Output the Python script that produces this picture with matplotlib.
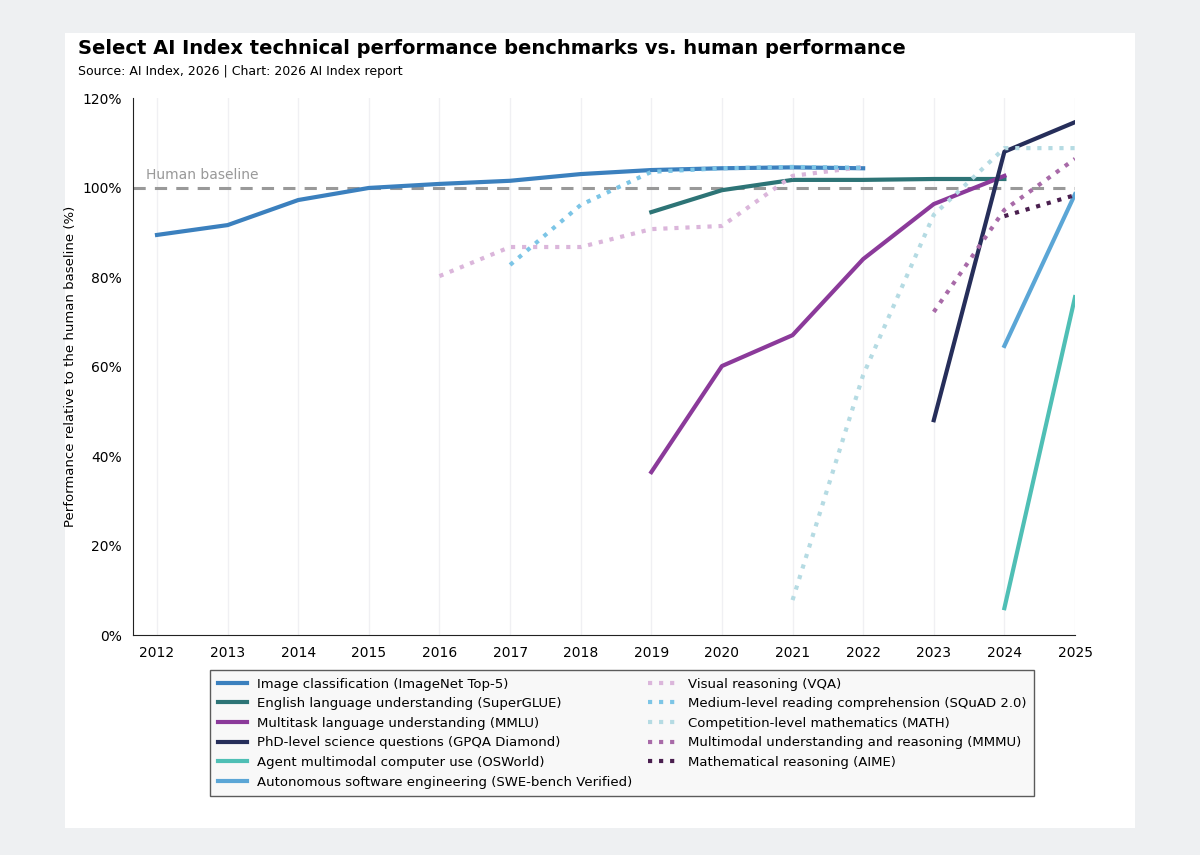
import matplotlib.pyplot as plt
from matplotlib.patches import Rectangle

years = list(range(2012, 2026))
series = [
    ("Image classification (ImageNet Top-5)", list(range(2012, 2023)),
     [89.4, 91.6, 97.2, 99.9, 100.8, 101.5, 103.0, 103.9, 104.3, 104.5, 104.3], "#3b80be", "-"),
    ("English language understanding (SuperGLUE)", list(range(2019, 2025)),
     [94.5, 99.4, 101.7, 101.7, 101.9, 101.9], "#2d7476", "-"),
    ("Multitask language understanding (MMLU)", list(range(2019, 2025)),
     [36.4, 60.1, 67.0, 84.0, 96.3, 102.6], "#8b3a9a", "-"),
    ("PhD-level science questions (GPQA Diamond)", [2023, 2024, 2025],
     [48.0, 108.0, 114.6], "#262e5a", "-"),
    ("Agent multimodal computer use (OSWorld)", [2024, 2025],
     [6.0, 75.5], "#4fbfb5", "-"),
    ("Autonomous software engineering (SWE-bench Verified)", [2024, 2025],
     [64.6, 98.5], "#5ba6d6", "-"),
    ("Visual reasoning (VQA)", list(range(2016, 2023)),
     [80.2, 86.7, 86.7, 90.7, 91.4, 102.6, 104.6], "#dbb6db", ":"),
    ("Medium-level reading comprehension (SQuAD 2.0)", list(range(2017, 2023)),
     [82.7, 96.1, 103.5, 104.3, 104.6, 104.4], "#7cc5e6", ":"),
    ("Competition-level mathematics (MATH)", list(range(2021, 2026)),
     [7.8, 58.1, 93.9, 108.8, 108.8], "#b5dbe3", ":"),
    ("Multimodal understanding and reasoning (MMMU)", [2023, 2024, 2025],
     [72.2, 95.0, 106.4], "#a86aa8", ":"),
    ("Mathematical reasoning (AIME)", [2024, 2025],
     [93.6, 98.3], "#4a1f4f", ":"),
]

fig = plt.figure(figsize=(12, 8.55), dpi=100)
fig.patch.set_facecolor("#eef0f2")
fig.add_artist(Rectangle((65/1200, 1-828/855), (1135-65)/1200, (828-33)/855,
                         transform=fig.transFigure, facecolor="white", edgecolor="none", zorder=0))
ax = fig.add_axes([133/1200, 1-635/855, (1075-133)/1200, (635-98)/855])
ax.set_facecolor("white")

handles = []
for name, xs, ys, c, ls in series:
    h, = ax.plot(xs, ys, color=c, lw=3, linestyle=ls, label=name, zorder=3)
    handles.append(h)
ax.axhline(100, color="#999999", lw=2.2, ls=(0, (4, 3)), zorder=2)
ax.text(2011.85, 101.2, "Human baseline", color="#999999", fontsize=10, va="bottom")

ax.set_xlim(2011.66, 2025)
ax.set_ylim(0, 120)
ax.set_xticks(years)
ax.set_yticks(range(0, 121, 20))
ax.set_yticklabels([f"{v}%" for v in range(0, 121, 20)])
ax.tick_params(labelsize=10, length=0, pad=8)
ax.grid(axis="x", color="#f0f0f3", lw=1)
for s in ["top", "right"]:
    ax.spines[s].set_visible(False)
ax.spines["left"].set_color("#222222")
ax.spines["bottom"].set_color("#222222")
ax.set_ylabel("Performance relative to the human baseline (%)", fontsize=9.5)

fig.text(78/1200, 1-48/855, "Select AI Index technical performance benchmarks vs. human performance",
         fontsize=14, fontweight="bold", va="center")
fig.text(78/1200, 1-71/855, "Source: AI Index, 2026 | Chart: 2026 AI Index report",
         fontsize=9, va="center")

leg = fig.legend(handles=handles, loc="upper left", ncol=2,
                 bbox_to_anchor=(203/1200, 1-663/855), fontsize=9.5,
                 frameon=True, fancybox=False, edgecolor="#333333",
                 facecolor="#f7f7f7", handlelength=2.2, columnspacing=1.2,
                 labelspacing=0.5, borderpad=0.6)
fig.savefig("out.png", dpi=100, facecolor=fig.get_facecolor())
